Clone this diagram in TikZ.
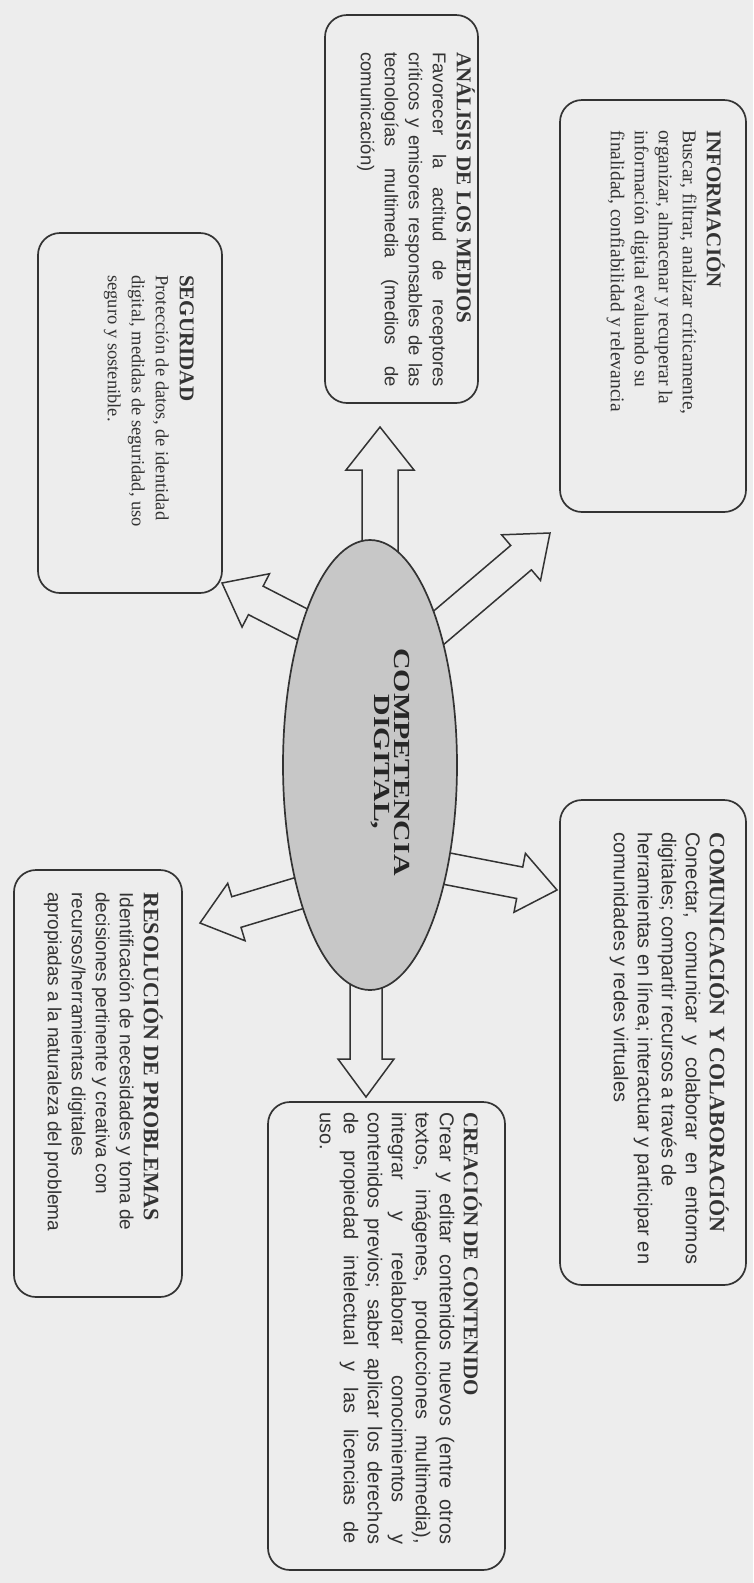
\documentclass[tikz,border=0pt]{standalone}
\usepackage{fontspec}
\setmainfont{Liberation Serif}
\newfontfamily\sansf{Liberation Sans}
\usetikzlibrary{calc,shapes.geometric}
\pgfdeclarelayer{bg}
\pgfsetlayers{bg,main}
\definecolor{paper}{gray}{0.93}
\definecolor{ink}{gray}{0.2}
\definecolor{ellfill}{gray}{0.78}
\newcommand{\nsp}{\spaceskip=0pt\relax\xspaceskip=0pt\relax}
\newcommand{\jl}[2]{\makebox[#1pt][s]{\nsp #2}}
\newcommand{\ttl}{\fontsize{21}{24}\selectfont\rmfamily\bfseries}
\newcommand{\ttlb}{\fontsize{22}{24}\selectfont\rmfamily\bfseries}
\tikzset{
  box/.style={draw=ink, line width=1.7pt, rounded corners=22pt, inner sep=0pt},
  txt/.style={rotate=-90, anchor=north west, inner sep=0pt, align=left, text=ink},
  serifbody/.style={font=\fontsize{#1}{24}\selectfont\rmfamily},
  sansbody/.style={font=\fontsize{#1}{24}\selectfont\sansf},
  ell/.style={ellipse, draw=ink, line width=1.7pt, fill=ellfill, inner sep=0pt},
  barrow/.style args={#1/#2/#3}{draw=ink, line width=1.5pt, fill=paper, line join=miter,
    to path={let \p1=(\tikztostart), \p2=(\tikztotarget),
      \n1={atan2(\y2-\y1,\x2-\x1)}, \n2={veclen(\x2-\x1,\y2-\y1)} in
      ($(\p1)+(\n1+90:#1pt)$) -- ($(\p1)+(\n1:\n2-#3pt)+(\n1+90:#1pt)$)
      -- ($(\p1)+(\n1:\n2-#3pt)+(\n1+90:#2pt)$) -- (\p2)
      -- ($(\p1)+(\n1:\n2-#3pt)+(\n1-90:#2pt)$) -- ($(\p1)+(\n1:\n2-#3pt)+(\n1-90:#1pt)$)
      -- ($(\p1)+(\n1-90:#1pt)$) -- cycle}}
}
\begin{document}
\begin{tikzpicture}[x=1pt,y=-1pt]
\begin{pgfonlayer}{bg}
  \fill[paper] (0,0) rectangle (753,1583);
\end{pgfonlayer}
\useasboundingbox (0,0) rectangle (753,1583);

% boxes
\node[box, minimum width=153pt, minimum height=388pt] (ana) at (401.5,209) {};
\node[box, minimum width=186pt, minimum height=412pt] (info) at (653,306) {};
\node[box, minimum width=184pt, minimum height=360pt] (seg) at (130,413) {};
\node[box, minimum width=186pt, minimum height=485pt] (com) at (653,1042.5) {};
\node[box, minimum width=237pt, minimum height=468pt] (cre) at (386.5,1336) {};
\node[box, minimum width=168pt, minimum height=427pt] (res) at (98,1083.5) {};

% texts
\node[txt, sansbody=18.5, text width=335pt] (anat) at (475,52) {\nsp{\ttl ANÁLISIS DE LOS MEDIOS}\\
\jl{335}{Favorecer la actitud de receptores}\\
\jl{335}{críticos y emisores responsables de las}\\
\jl{335}{tecnologías multimedia (medios de}\\
comunicación)};

\node[txt, serifbody=19.5, text width=300pt] (infot) at (725,130) {\nsp{\ttl INFORMACIÓN}\\
Buscar, filtrar, analizar críticamente,\\
organizar, almacenar y recuperar la\\
información digital evaluando su\\
finalidad, confiabilidad y relevancia};

\node[txt, serifbody=18.5, text width=270pt] (segt) at (194,275) {\nsp{\ttl SEGURIDAD}\\
Protección de datos, de identidad\\
digital, medidas de seguridad, uso\\
seguro y sostenible.};

\node[txt, sansbody=20, text width=432pt] (comt) at (729,832) {\nsp{\ttlb COMUNICACIÓN\ \ Y COLABORACIÓN}\\
\jl{432}{Conectar, comunicar y colaborar en entornos}\\
digitales; compartir recursos a través de\\
\jl{432}{herramientas en línea; interactuar y participar en}\\
comunidades y redes virtuales};

\node[txt, sansbody=20, text width=432pt] (cret) at (482,1112) {\nsp{\ttl CREACIÓN DE CONTENIDO}\\
\jl{432}{Crear y editar contenidos nuevos (entre otros}\\
\jl{432}{textos, imágenes, producciones multimedia),}\\
\jl{432}{integrar y reelaborar conocimientos y}\\
\jl{432}{contenidos previos; saber aplicar los derechos}\\
\jl{432}{de propiedad intelectual y las licencias de}\\
uso.};

\node[txt, sansbody=19, text width=345pt] (rest) at (163,892) {\nsp{\ttlb RESOLUCIÓN DE PROBLEMAS}\\
Identificación de necesidades y toma de\\
decisiones pertinente y creativa con\\
recursos/herramientas digitales\\
apropiadas a la naturaleza del problema};

% central ellipse
\node[ell, minimum width=174pt, minimum height=450pt] (ell) at (370,765) {};
\node[rotate=-90, xscale=1.3, align=center, inner sep=0pt, text=black!85,
  font=\fontsize{23}{20}\selectfont\rmfamily\bfseries] (ellt) at (390,762) {COMPETENCIA\\DIGITAL,};

% arrow tips
\coordinate (tAna) at (380,427);
\coordinate (tCre) at (366,1097);
\coordinate (tInfo) at (550,533);
\coordinate (tCom) at (557,890);
\coordinate (tSeg) at (222,583);
\coordinate (tRes) at (200,923);

\begin{pgfonlayer}{bg}
  \draw[barrow={18/34/43}] ($(ell.center)+(10,-180)$) to (tAna);
  \draw[barrow={16/28/38}] ($(ell.center)+(-4,180)$) to (tCre);
  \draw[barrow={16/30/38}] ($(ell.center)+(59,-129)$) to (tInfo);
  \draw[barrow={16/30/38}] ($(ell.center)+(58,100)$) to (tCom);
  \draw[barrow={16/30/38}] ($(ell.center)+(-47,-130)$) to (tSeg);
  \draw[barrow={16/30/38}] ($(ell.center)+(-54,123)$) to (tRes);
\end{pgfonlayer}
\end{tikzpicture}
\end{document}
